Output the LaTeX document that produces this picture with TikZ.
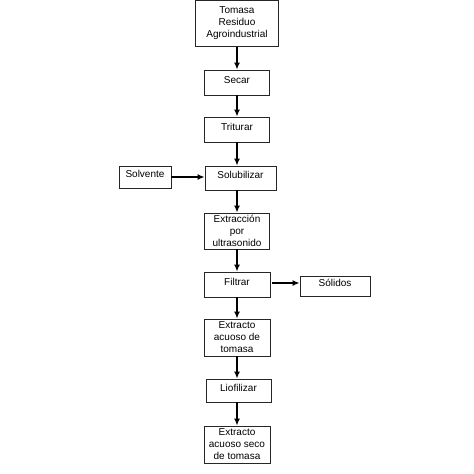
\documentclass[tikz,border=0pt]{standalone}
\usepackage{fontspec}
\setmainfont{Liberation Sans}
\usetikzlibrary{arrows.meta}
\tikzset{
  stepbox/.style={draw=black!85, line width=0.8pt, rectangle, inner sep=1pt,
    text height=7pt, text depth=6pt, font=\fontsize{10}{12}\selectfont},
  tallbox/.style={draw=black!85, line width=0.8pt, rectangle, inner sep=1pt,
    align=center, font=\fontsize{10}{12}\selectfont},
  flow/.style={-{Latex[length=7pt,width=6pt]}, line width=1.5pt}
}
\newcommand{\drawstep}{\node[stepbox]}
\newcommand{\drawtall}{\node[tallbox]}

\begin{document}
\begin{tikzpicture}[x=1pt, y=-1pt]
\useasboundingbox (0,0) rectangle (474,474);
%main column
\drawtall[minimum width=83pt, minimum height=46pt] (tomasa) at (237,23.5) {Tomasa\\Residuo\\Agroindustrial};
\drawstep[minimum width=65pt, minimum height=25pt] (secar) at (237,82.5) {Secar};
\drawstep[minimum width=65pt, minimum height=25pt] (triturar) at (237,129.5) {Triturar};
\drawstep[minimum width=71pt, minimum height=24pt] (solub) at (240.5,178) {Solubilizar};
\drawtall[minimum width=65pt, minimum height=36pt] (extrac) at (237,231) {Extracción\\por\\ultrasonido};
\drawstep[minimum width=66pt, minimum height=25pt] (filtrar) at (237,284.5) {Filtrar};
\drawtall[minimum width=66pt, minimum height=37pt] (acuoso) at (237,337.5) {Extracto\\acuoso de\\tomasa};
\drawstep[minimum width=65pt, minimum height=23pt] (liofil) at (238.5,390.5) {Liofilizar};
\drawtall[minimum width=66pt, minimum height=37pt] (seco) at (237,444.5) {Extracto\\acuoso seco\\de tomasa};

%side boxes
\drawstep[minimum width=52pt, minimum height=22pt] (solvente) at (145,177) {Solvente};
\drawstep[minimum width=70pt, minimum height=20pt] (solidos) at (335,286) {Sólidos};

%arrows
\draw[flow] (tomasa.south) -- (tomasa.south |- secar.north);
\draw[flow] (secar.south) -- (secar.south |- triturar.north);
\draw[flow] (triturar.south) -- (triturar.south |- solub.north);
\draw[flow] (solub.south -| triturar.south) -- (triturar.south |- extrac.north);
\draw[flow] (extrac.south) -- (extrac.south |- filtrar.north);
\draw[flow] (filtrar.south) -- (filtrar.south |- acuoso.north);
\draw[flow] (acuoso.south) -- (acuoso.south |- liofil.north);
\draw[flow] (liofil.south -| acuoso.south) -- (acuoso.south |- seco.north);

\draw[flow] (solvente.east) -- (solvente.east -| solub.west);
\draw[flow, shorten <=2pt] (filtrar.east |- 0,283) -- (solidos.west |- 0,283);
\end{tikzpicture}
\end{document}
